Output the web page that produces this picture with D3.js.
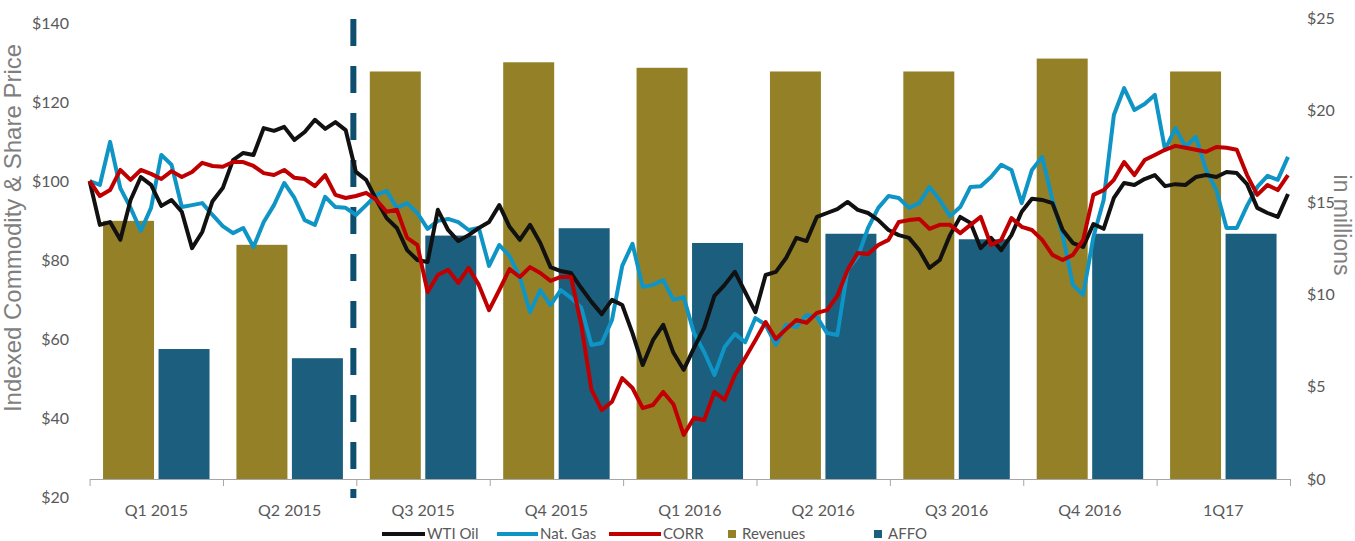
<!DOCTYPE html>
<html>
<head>
<meta charset="utf-8">
<script src="https://cdn.jsdelivr.net/npm/d3@7/dist/d3.min.js"></script>
<style>
  body { margin: 0; background: #fff; }
  svg text { font-family: Lato, "Open Sans", sans-serif; }
</style>
</head>
<body>
<svg id="chart"></svg>
<script>
// quarterly bars (right axis, $ millions)
const quarters = ["Q1 2015", "Q2 2015", "Q3 2015", "Q4 2015", "Q1 2016", "Q2 2016", "Q3 2016", "Q4 2016", "1Q17"];
const revenues = [14.0, 12.7, 22.1, 22.6, 22.3, 22.1, 22.1, 22.8, 22.1];
const affo = [7.05, 6.55, 13.2, 13.6, 12.8, 13.3, 13.0, 13.3, 13.3];

// weekly indexed prices (left axis), Jan 2015 -> Mar 2017
const wtiOil = [100, 88.9, 89.6, 85.1, 95.2, 101.0, 99.0, 93.7, 95.2, 92.2,
  83.0, 87.1, 94.9, 98.2, 105.3, 107.1, 106.6, 113.4, 112.7, 113.7,
  110.4, 112.4, 115.5, 113.2, 114.9, 112.9, 102.3, 100.3, 95.2, 90.6,
  88.1, 82.5, 80.0, 79.5, 92.7, 87.6, 84.8, 86.3, 88.1, 89.6,
  93.9, 88.4, 85.1, 88.9, 84.3, 78.2, 77.2, 76.7, 72.9, 69.4,
  66.3, 69.9, 68.6, 61.5, 53.4, 59.7, 63.6, 56.5, 52.2, 57.7,
  62.8, 70.9, 73.7, 77.0, 71.9, 66.8, 76.2, 77.0, 80.5, 85.6,
  84.8, 90.9, 91.9, 92.9, 94.7, 92.7, 91.9, 90.1, 87.6, 86.3,
  85.6, 82.5, 78.0, 80.0, 86.3, 90.9, 89.4, 83.0, 85.6, 82.5,
  86.3, 92.2, 95.5, 95.2, 94.4, 87.6, 84.3, 83.3, 89.1, 87.9,
  95.7, 99.5, 99.0, 100.5, 101.5, 98.7, 99.2, 99.0, 101.0, 101.5,
  101.0, 102.3, 102.0, 99.2, 93.2, 91.9, 90.9, 96.7];

const natGas = [100, 99.0, 109.9, 98.2, 93.2, 87.4, 93.2, 106.6, 104.1, 93.4,
  93.9, 94.4, 91.4, 88.6, 86.8, 88.1, 83.3, 89.6, 93.9, 99.5,
  95.7, 90.1, 88.9, 96.0, 93.4, 93.2, 91.4, 93.9, 96.5, 97.5,
  93.2, 94.4, 91.9, 87.9, 89.9, 90.4, 89.6, 87.6, 88.1, 78.5,
  83.8, 81.0, 75.7, 66.8, 72.4, 68.6, 72.4, 70.4, 67.9, 58.5,
  59.0, 64.8, 78.5, 84.1, 73.2, 73.7, 74.9, 69.9, 70.6, 61.5,
  56.7, 50.9, 58.0, 61.3, 59.2, 65.3, 63.6, 58.5, 63.6, 63.0,
  66.1, 65.6, 61.5, 61.0, 77.5, 80.8, 88.1, 93.2, 96.2, 95.7,
  93.2, 94.4, 98.5, 95.2, 91.1, 93.4, 98.5, 98.7, 101.0, 104.1,
  102.8, 94.4, 102.8, 106.1, 95.2, 86.3, 73.7, 71.2, 85.8, 95.2,
  116.7, 123.5, 118.0, 119.5, 121.8, 107.9, 113.4, 108.6, 111.2, 102.8,
  97.7, 88.1, 88.1, 93.7, 98.5, 101.3, 100.3, 106.1];

const corr = [100, 96.2, 97.7, 102.8, 100.3, 102.8, 101.8, 100.5, 102.5, 101.0,
  102.3, 104.6, 103.8, 103.6, 104.8, 104.8, 103.8, 102.0, 101.5, 102.8,
  100.8, 100.5, 98.7, 101.5, 96.5, 95.7, 96.2, 97.0, 95.2, 92.2,
  92.7, 85.6, 83.8, 71.9, 76.2, 77.5, 74.2, 78.0, 73.7, 67.3,
  72.4, 77.7, 75.7, 78.2, 76.7, 74.7, 75.7, 75.7, 63.6, 47.1,
  42.0, 44.1, 50.1, 47.6, 42.5, 43.3, 46.6, 43.5, 35.7, 40.0,
  39.5, 46.6, 44.6, 50.9, 55.2, 59.7, 64.3, 60.0, 62.5, 64.8,
  64.1, 66.6, 67.3, 70.9, 77.5, 81.8, 81.5, 83.8, 85.1, 89.6,
  90.1, 90.4, 87.9, 88.9, 88.9, 86.8, 88.9, 90.9, 83.8, 85.1,
  90.6, 88.4, 87.6, 85.1, 81.3, 80.0, 81.3, 85.1, 96.5, 97.7,
  100.3, 104.8, 101.5, 105.3, 106.6, 107.9, 108.9, 108.4, 107.9, 107.4,
  108.6, 108.4, 107.9, 101.5, 96.5, 99.0, 97.7, 101.5];

const leftTicks = [20, 40, 60, 80, 100, 120, 140];
const rightTicks = [0, 5, 10, 15, 20, 25];

const colors = {
  wti: "#111111",
  gas: "#0f94c6",
  corr: "#c00000",
  revenues: "#948127",
  affo: "#1b5e7e"
};

const width = 1355, height = 541;
const svg = d3.select("#chart").attr("width", width).attr("height", height);

// scales
const x = d3.scaleBand().domain(quarters).range([89.6, 1290]).padding(0);
const xBar = d3.scaleBand().domain(["Revenues", "AFFO"]).range([0, x.bandwidth()])
    .paddingInner(0.081).paddingOuter(0.2425);
const xEdge = d3.scaleLinear().domain([0, quarters.length]).range(x.range());
const yLeft = d3.scaleLinear().domain([20, 140]).range([497, 23]);
const yRight = d3.scaleLinear().domain([0, 25]).range([479, 18]);

// bars
const bars = svg.append("g");
quarters.forEach((q, i) => {
    bars.append("rect")
        .attr("x", x(q) + xBar("Revenues"))
        .attr("y", yRight(revenues[i]))
        .attr("width", xBar.bandwidth())
        .attr("height", yRight(0) - yRight(revenues[i]))
        .attr("fill", colors.revenues);
    bars.append("rect")
        .attr("x", x(q) + xBar("AFFO"))
        .attr("y", yRight(affo[i]))
        .attr("width", xBar.bandwidth())
        .attr("height", yRight(0) - yRight(affo[i]))
        .attr("fill", colors.affo);
});

// x axis: baseline with ticks on the quarter edges
svg.append("g")
    .attr("transform", "translate(0," + yRight(0) + ")")
    .call(d3.axisBottom(xEdge).tickValues(d3.range(quarters.length + 1)).tickSize(7).tickSizeOuter(0).tickFormat(""))
    .call(g => g.selectAll("path, line").attr("stroke", "#a6a6a6"));

svg.append("g")
    .attr("transform", "translate(0," + yRight(0) + ")")
    .call(d3.axisBottom(x).tickSize(0).tickPadding(26))
    .call(g => g.select(".domain").remove())
    .call(g => g.selectAll("text").attr("font-size", 16).attr("fill", "#595959")
        .style("font-family", "Lato, sans-serif"));

// left axis
svg.append("g")
    .attr("transform", "translate(72,0)")
    .call(d3.axisLeft(yLeft).tickValues(leftTicks).tickSize(0).tickPadding(3).tickFormat(d => "$" + d))
    .call(g => g.select(".domain").remove())
    .call(g => g.selectAll("text").attr("font-size", 16).attr("fill", "#595959")
        .style("font-family", "Lato, sans-serif"));

// right axis
svg.append("g")
    .attr("transform", "translate(1304,0)")
    .call(d3.axisRight(yRight).tickValues(rightTicks).tickSize(0).tickPadding(3).tickFormat(d => "$" + d))
    .call(g => g.select(".domain").remove())
    .call(g => g.selectAll("text").attr("font-size", 16).attr("fill", "#595959")
        .style("font-family", "Lato, sans-serif"));

// axis titles
svg.append("text")
    .attr("transform", "translate(21,228) rotate(-90)")
    .attr("text-anchor", "middle")
    .style("font-family", "'Liberation Sans', Arial, sans-serif")
    .attr("font-size", 24)
    .attr("fill", "#7f7f7f")
    .text("Indexed Commodity & Share Price");

svg.append("text")
    .attr("transform", "translate(1334,225) rotate(90)")
    .attr("text-anchor", "middle")
    .style("font-family", "'Liberation Sans', Arial, sans-serif")
    .attr("font-size", 23)
    .attr("fill", "#7f7f7f")
    .text("in millions");

// dashed divider between Q2 and Q3 2015
svg.append("line")
    .attr("x1", xEdge(2) - 3).attr("x2", xEdge(2) - 3)
    .attr("y1", 0).attr("y2", 498)
    .attr("stroke", "#0e4f70")
    .attr("stroke-width", 6)
    .attr("stroke-dasharray", "27 20")
    .attr("stroke-dashoffset", 28);

// price lines
const series = [
    { name: "Nat. Gas", values: natGas, color: colors.gas },
    { name: "WTI Oil", values: wtiOil, color: colors.wti },
    { name: "CORR", values: corr, color: colors.corr }
];

series.forEach(s => {
    const xWeek = d3.scaleLinear().domain([0, s.values.length - 1]).range([89.6, 1288]);
    const line = d3.line()
        .x((d, i) => xWeek(i))
        .y(d => yLeft(d));
    svg.append("path")
        .datum(s.values)
        .attr("d", line)
        .attr("fill", "none")
        .attr("stroke", s.color)
        .attr("stroke-width", 4)
        .attr("stroke-linejoin", "round");
});

// legend
const legendItems = [
    { name: "WTI Oil", color: colors.wti, type: "line", x: 382, w: 43 },
    { name: "Nat. Gas", color: colors.gas, type: "line", x: 497, w: 41 },
    { name: "CORR", color: colors.corr, type: "line", x: 609, w: 52 },
    { name: "Revenues", color: colors.revenues, type: "box", x: 728, w: 8 },
    { name: "AFFO", color: colors.affo, type: "box", x: 874, w: 8 }
];
const legend = svg.append("g").attr("transform", "translate(0,534)");
legendItems.forEach(item => {
    if (item.type === "line") {
        legend.append("line")
            .attr("x1", item.x).attr("x2", item.x + item.w)
            .attr("stroke", item.color).attr("stroke-width", 4);
    } else {
        legend.append("rect")
            .attr("x", item.x).attr("y", -4)
            .attr("width", item.w).attr("height", item.w)
            .attr("fill", item.color);
    }
    legend.append("text")
        .attr("x", item.x + item.w + (item.type === "line" ? 2 : 6))
        .attr("dy", "0.35em")
        .attr("font-size", 15)
        .attr("fill", "#595959")
        .text(item.name);
});
</script>
</body>
</html>
